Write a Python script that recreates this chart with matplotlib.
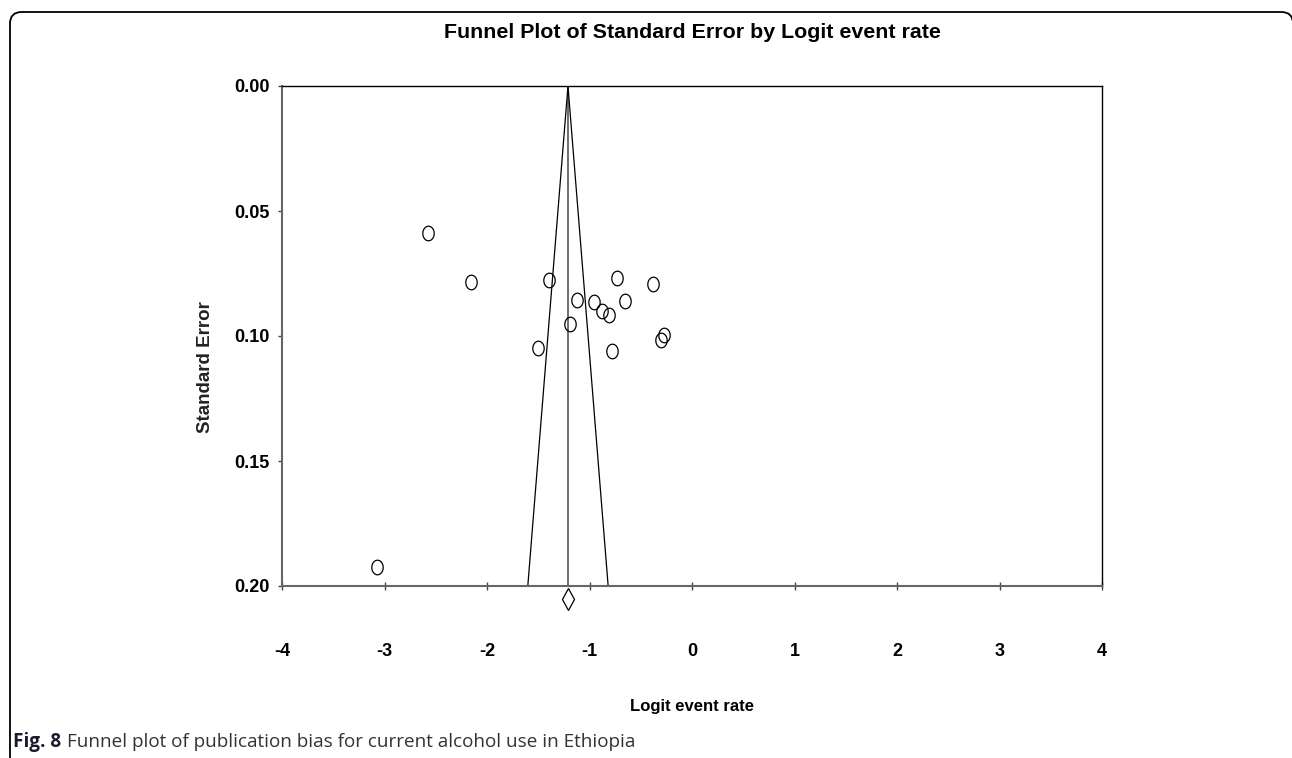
import matplotlib
matplotlib.use('Agg')
import numpy as np
import matplotlib.pyplot as plt
from matplotlib import font_manager
from matplotlib.path import Path
from matplotlib.patches import FancyBboxPatch

# Study estimates
logit_rate = [-2.58, -2.16, -1.40, -0.73, -0.38, -1.12, -0.96, -0.65,
              -0.88, -0.81, -1.19, -0.27, -0.30, -1.50, -0.78, -3.07]
std_err = [0.0587, 0.0784, 0.0777, 0.0769, 0.0791, 0.0855, 0.0864, 0.0860,
           0.0899, 0.0916, 0.0953, 0.0995, 0.1017, 0.1047, 0.1061, 0.1925]
pooled = -1.21
pooled_se = 0.205
se_max = 0.20

x_ticks = [-4, -3, -2, -1, 0, 1, 2, 3, 4]
y_ticks = [0.00, 0.05, 0.10, 0.15, 0.20]

# pick a narrow font if it is there
names = {f.name for f in font_manager.fontManager.ttflist}
narrow = 'Liberation Sans Narrow' if 'Liberation Sans Narrow' in names else 'Liberation Sans'

W, H = 1292, 758
fig = plt.figure(figsize=(W / 100, H / 100), dpi=100)

# rounded frame round the figure
frame = FancyBboxPatch((10 / W, -30 / H), (1293 - 10) / W, (746 + 30) / H,
                       boxstyle='round,pad=0,rounding_size=0.009',
                       transform=fig.transFigure, fill=False,
                       edgecolor='black', linewidth=1.3, mutation_aspect=W / H)
fig.patches.append(frame)

ax = fig.add_axes([282 / W, 1 - 586 / H, (1102 - 282) / W, 500 / H])

# funnel: pooled line and 95% limits
ax.plot([pooled, pooled], [0, se_max], color='#555555', lw=1.2)
ax.plot([pooled - 1.96 * se_max, pooled, pooled + 1.96 * se_max],
        [se_max, 0, se_max], color='black', lw=0.9)

# oval markers, a bit taller than wide
t = np.linspace(0, 2 * np.pi, 60)
oval = Path(np.column_stack([0.78 * np.cos(t), np.sin(t)]))
ax.plot(logit_rate, std_err, linestyle='none', marker=oval, markersize=10.5,
        markerfacecolor='none', markeredgecolor='black', markeredgewidth=0.9)

ax.plot([pooled], [pooled_se], linestyle='none', marker='d', markersize=11,
        markerfacecolor='none', markeredgecolor='black', markeredgewidth=0.9,
        clip_on=False)

ax.set_xlim(-4, 4)
ax.set_ylim(se_max, 0)
ax.set_xticks(x_ticks)
ax.set_yticks(y_ticks)
ax.set_xticklabels([str(v) for v in x_ticks])
ax.set_yticklabels(['%.2f' % v for v in y_ticks])

for lab in ax.get_xticklabels() + ax.get_yticklabels():
    lab.set_fontfamily(narrow)
    lab.set_fontweight('bold')
    lab.set_fontsize(13)

ax.tick_params(axis='x', direction='inout', length=6, width=1, color='#444444', pad=38)
ax.tick_params(axis='y', direction='out', length=3, width=1, color='#444444', pad=6)

for side in ['top', 'right']:
    ax.spines[side].set_color('black')
    ax.spines[side].set_linewidth(1.0)
for side in ['left', 'bottom']:
    ax.spines[side].set_color('#666666')
    ax.spines[side].set_linewidth(1.5)

fig.text(692 / W, 1 - 33 / H, 'Funnel Plot of Standard Error by Logit event rate',
         ha='center', va='center', family=narrow, weight='bold', size=15.4)
fig.text(692 / W, 1 - 706 / H, 'Logit event rate', ha='center', va='center',
         family=narrow, weight='bold', size=12)
fig.text(205 / W, 1 - 367 / H, 'Standard Error', ha='center', va='center',
         rotation=90, family='Liberation Sans', weight='bold', size=13.5,
         color='#222222')

# caption
r = fig.canvas.get_renderer()
fig_lab = fig.text(13 / W, 1 - 742 / H, 'Fig. 8', ha='left', va='center',
                   family='Open Sans', weight='bold', size=13.6, color='#1b1b2f')
bb = fig_lab.get_window_extent(renderer=r)
fig.text((bb.x1 + 6) / W, 1 - 742 / H,
         'Funnel plot of publication bias for current alcohol use in Ethiopia',
         ha='left', va='center', family='Open Sans', size=13.6, color='#333333')

fig.savefig('out.png', dpi=100)
